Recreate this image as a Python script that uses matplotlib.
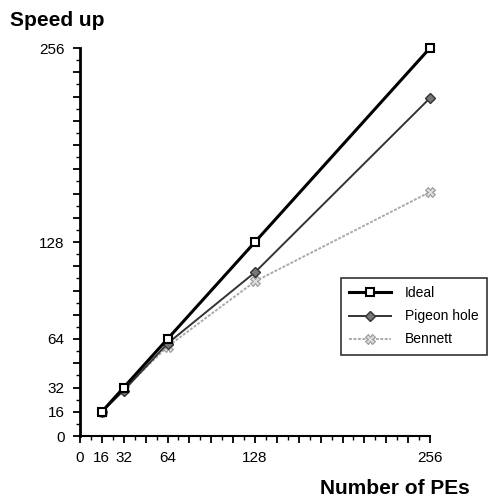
import matplotlib
matplotlib.use('Agg')
import matplotlib.pyplot as plt
from matplotlib.ticker import MultipleLocator

plt.rcParams['font.family'] = ['Liberation Sans', 'DejaVu Sans']

# data
pes = [16, 32, 64, 128, 256]
ideal = [16, 32, 64, 128, 256]
pigeon_hole = [16, 30, 61, 108, 223]
bennett = [16, 31, 59, 102, 161]

tick_values = list(range(0, 257, 16))
shown_labels = [0, 16, 32, 64, 128, 256]
tick_labels = [str(v) if v in shown_labels else '' for v in tick_values]

fig = plt.figure(figsize=(4.92, 5.04), dpi=100)
ax = fig.add_axes([80/492, 68/504, 350/492, 388/504])

ax.plot(pes, ideal, color='black', lw=2.2, marker='s', ms=6,
        mfc='white', mec='black', mew=1.5, label='Ideal', clip_on=False, zorder=4)
ax.plot(pes, pigeon_hole, color='#333333', lw=1.4, marker='D', ms=5,
        mfc='#777777', mec='#333333', mew=1.0, label='Pigeon hole', clip_on=False, zorder=3)
ax.plot(pes, bennett, color='#aaaaaa', lw=1.4, ls=(0, (1.5, 0.8)), marker='X', ms=7,
        mfc='#dddddd', mec='#999999', mew=0.8, label='Bennett', clip_on=False, zorder=2)

ax.set_xlim(0, 256)
ax.set_ylim(0, 256)
ax.set_xticks(tick_values)
ax.set_xticklabels(tick_labels, fontsize=11)
ax.set_yticks(tick_values)
ax.set_yticklabels(tick_labels, fontsize=11)
ax.xaxis.set_minor_locator(MultipleLocator(8))
ax.yaxis.set_minor_locator(MultipleLocator(8))
ax.tick_params(which='major', length=5, width=1.3, pad=6)
ax.tick_params(which='minor', length=3, width=1.0)

for side in ['top', 'right']:
    ax.spines[side].set_visible(False)
ax.spines['left'].set_linewidth(2)
ax.spines['bottom'].set_linewidth(1.5)

fig.text(10/492, 1 - 20/504, 'Speed up', fontsize=15, fontweight='bold', va='center', ha='left')
fig.text(395/492, 1 - 489/504, 'Number of PEs', fontsize=15, fontweight='bold', va='center', ha='center')

leg = fig.legend(loc='upper left', bbox_to_anchor=(341/492, 1 - 278/504), fontsize=10,
                 handlelength=3.0, frameon=True, fancybox=False, shadow=False,
                 borderaxespad=0, borderpad=0.6, labelspacing=0.65, handletextpad=1.0)
leg.get_frame().set_edgecolor('black')
leg.get_frame().set_linewidth(1.2)

fig.savefig('out.png', dpi=100)
